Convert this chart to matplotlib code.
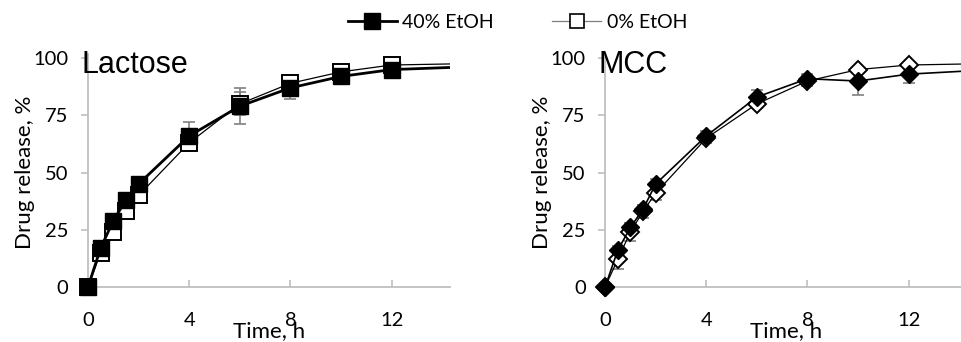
import matplotlib
matplotlib.use("Agg")
import matplotlib.pyplot as plt
from matplotlib.lines import Line2D

# ---------------- data ----------------
time_h = [0, 0.5, 1, 1.5, 2, 4, 6, 8, 10, 12]
tail_t = 14.5  # curve continues to the right edge

lac_40 = [0, 17, 29, 38, 45, 66, 79, 87, 92, 95]
lac_40_err = [0, 1, 1, 1, 1, 6, 8, 5, 1, 1]
lac_40_tail = 96
lac_0 = [0, 15, 24, 33, 40, 63, 80, 89, 94, 97]
lac_0_err = [0, 1, 1, 1, 1, 2, 5, 3, 1, 1]
lac_0_tail = 97.5

mcc_40 = [0, 16, 26, 34, 45, 66, 83, 91, 90, 93]
mcc_40_err = [0, 2, 2, 2, 2, 2, 3, 2, 6, 4]
mcc_40_tail = 94.5
mcc_0 = [0, 12, 24, 33, 41, 65, 80, 90, 95, 97]
mcc_0_err = [0, 4, 4, 3, 3, 2, 2, 2, 1, 1]
mcc_0_tail = 97.5

x_ticks = [0, 4, 8, 12]
y_ticks = [0, 25, 50, 75, 100]
label_40 = "40% EtOH"
label_0 = "0% EtOH"

FONT = ["Lato", "DejaVu Sans"]
plt.rcParams["font.family"] = FONT

fig = plt.figure(figsize=(9.62, 3.42), dpi=100)
ax1 = fig.add_axes([0.0915, 0.161, 0.376, 0.669])
ax2 = fig.add_axes([0.629, 0.161, 0.376, 0.669])

spine_c = "#bfbfbf"
err_c = "#808080"


def style(ax, title):
    ax.set_xlim(0, 14.3)
    ax.set_ylim(0, 100)
    for s in ["top", "right"]:
        ax.spines[s].set_visible(False)
    for s in ["left", "bottom"]:
        ax.spines[s].set_color(spine_c)
        ax.spines[s].set_linewidth(1.3)
    ax.spines["left"].set_bounds(0, 102)
    ax.set_xticks(x_ticks)
    ax.set_yticks(y_ticks)
    ax.tick_params(axis="x", direction="in", length=5, color=spine_c, width=1.2,
                   labelsize=14.5, pad=18)
    ax.tick_params(axis="y", direction="out", length=5, color=spine_c, width=1.2,
                   labelsize=14.5, pad=9)
    ax.set_xlabel("Time, h", fontsize=16, labelpad=-6)
    ax.set_ylabel("Drug release, %", fontsize=16, labelpad=-1)
    ax.text(-0.25, 97, title, fontsize=22, family=["Liberation Sans", "DejaVu Sans"],
            ha="left", va="center", clip_on=False)


def draw(ax, y40, e40, t40, y0, e0, t0, marker, ms, lw40):
    ax.errorbar(time_h, y0, yerr=e0, fmt="none", ecolor=err_c, elinewidth=1.2,
                capsize=4, capthick=1.2, zorder=2, clip_on=False)
    ax.errorbar(time_h, y40, yerr=e40, fmt="none", ecolor=err_c, elinewidth=1.2,
                capsize=4, capthick=1.2, zorder=2, clip_on=False)
    ax.plot(time_h + [tail_t], y0 + [t0], color="black", lw=0.9, zorder=3)
    ax.plot(time_h, y0, linestyle="none", marker=marker, ms=ms, mfc="white",
            mec="black", mew=1.4, zorder=4, clip_on=False)
    ax.plot(time_h + [tail_t], y40 + [t40], color="black", lw=lw40, zorder=5)
    ax.plot(time_h, y40, linestyle="none", marker=marker, ms=ms, mfc="black",
            mec="black", mew=1.0, zorder=6, clip_on=False)


draw(ax1, lac_40, lac_40_err, lac_40_tail, lac_0, lac_0_err, lac_0_tail, "s", 11, 2.0)
draw(ax2, mcc_40, mcc_40_err, mcc_40_tail, mcc_0, mcc_0_err, mcc_0_tail, "D", 9.5, 1.2)
style(ax1, "Lactose")
style(ax2, "MCC")

handles = [
    Line2D([], [], color="black", lw=2.0, marker="s", ms=11, mfc="black", mec="black"),
    Line2D([], [], color="#7f7f7f", lw=0.9, marker="s", ms=10, mfc="white", mec="black", mew=1.2),
]
fig.legend(handles, [label_40, label_0], loc="center", bbox_to_anchor=(0.538, 0.935),
           ncol=2, frameon=False, fontsize=14, handlelength=2.5, handletextpad=0.3,
           columnspacing=3.0)

fig.savefig("out.png", dpi=100)
